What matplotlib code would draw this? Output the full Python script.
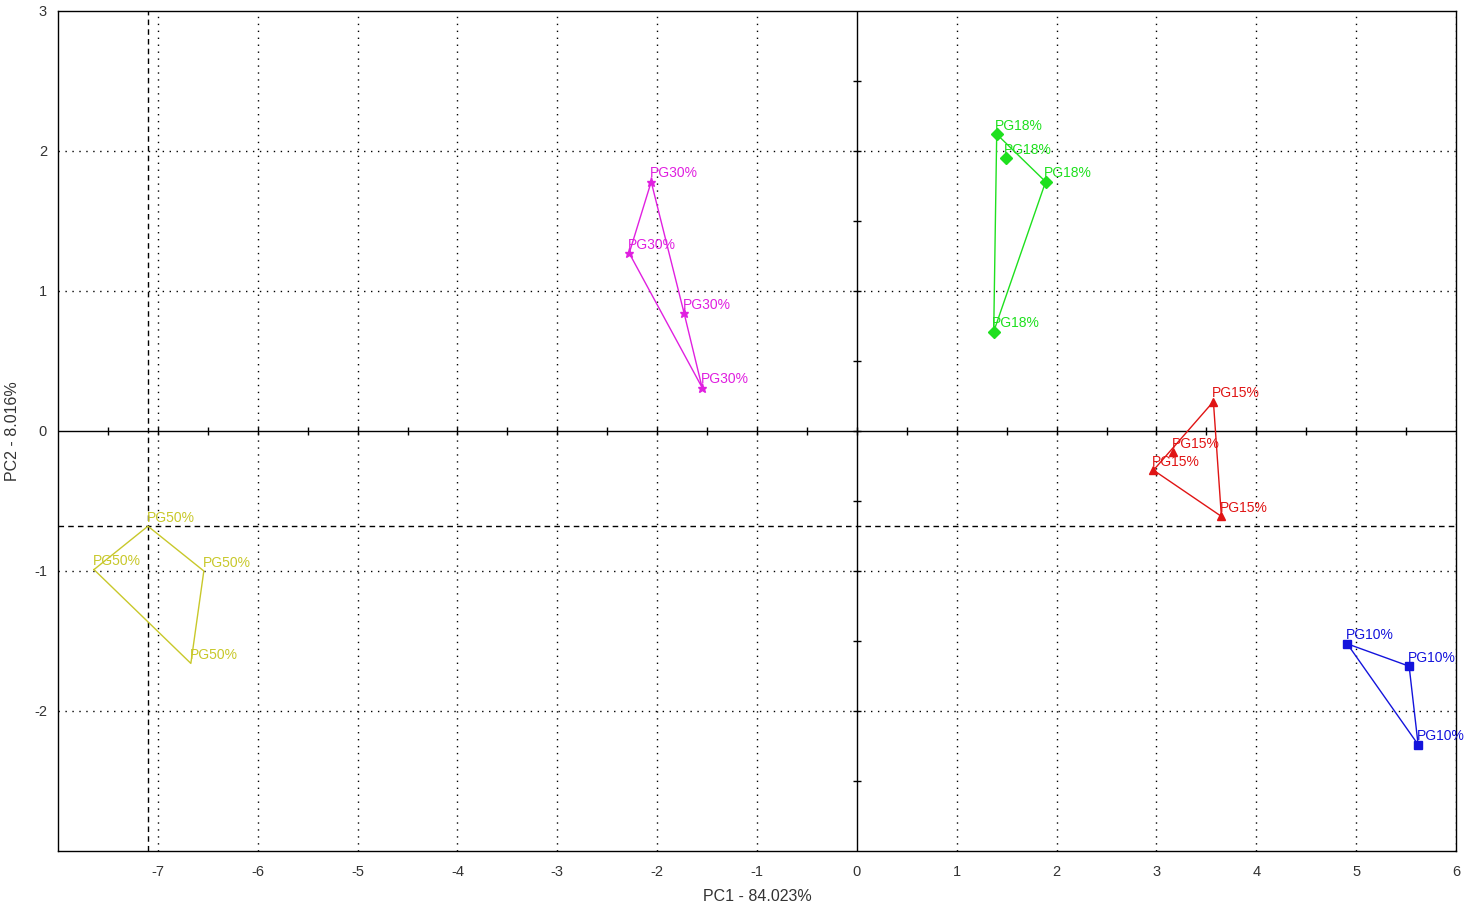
import matplotlib.pyplot as plt
import numpy as np

# PCA scores per sample group (PC1, PC2)
pg10_pc1 = [4.91, 5.53, 5.62]
pg10_pc2 = [-1.52, -1.68, -2.24]

pg15_pc1 = [3.57, 3.17, 2.97, 3.65]
pg15_pc2 = [0.21, -0.15, -0.28, -0.61]

pg18_pc1 = [1.40, 1.49, 1.89, 1.37]
pg18_pc2 = [2.12, 1.95, 1.78, 0.71]

pg30_pc1 = [-2.06, -2.28, -1.73, -1.55]
pg30_pc2 = [1.78, 1.27, 0.84, 0.31]

pg50_pc1 = [-7.10, -7.64, -6.54, -6.67]
pg50_pc2 = [-0.68, -0.99, -1.00, -1.66]

x_ticks = [-7, -6, -5, -4, -3, -2, -1, 0, 1, 2, 3, 4, 5, 6]
y_ticks = [-2, -1, 0, 1, 2, 3]

groups = [
    ("PG10%", pg10_pc1, pg10_pc2, "#1414dc", "s", 6),
    ("PG15%", pg15_pc1, pg15_pc2, "#e01414", "^", 6),
    ("PG18%", pg18_pc1, pg18_pc2, "#1ee01e", "D", 6.5),
    ("PG30%", pg30_pc1, pg30_pc2, "#e020e0", "*", 6.5),
    ("PG50%", pg50_pc1, pg50_pc2, "#c8c82a", "", 0),
]


def convex_hull(xs, ys):
    pts = sorted(zip(xs, ys))

    def cross(o, a, b):
        return (a[0] - o[0]) * (b[1] - o[1]) - (a[1] - o[1]) * (b[0] - o[0])

    lower, upper = [], []
    for p in pts:
        while len(lower) >= 2 and cross(lower[-2], lower[-1], p) <= 0:
            lower.pop()
        lower.append(p)
    for p in reversed(pts):
        while len(upper) >= 2 and cross(upper[-2], upper[-1], p) <= 0:
            upper.pop()
        upper.append(p)
    hull = lower[:-1] + upper[:-1]
    hull.append(hull[0])
    return np.array(hull)


plt.rcParams["font.family"] = ["Liberation Sans", "DejaVu Sans"]

fig = plt.figure(figsize=(14.73, 9.06), dpi=100)
ax = fig.add_axes([0.0394, 0.0607, 0.9491, 0.9272])

ax.set_xlim(-8, 6)
ax.set_ylim(-3, 3)

# dotted grid at integer positions
for xv in x_ticks:
    if xv != 0:
        ax.axvline(xv, color="black", lw=1, ls=(0, (1, 4)), zorder=1)
for yv in [-2, -1, 1, 2]:
    ax.axhline(yv, color="black", lw=1, ls=(0, (1, 4)), zorder=1)

# zero axes with half-unit ticks
ax.axhline(0, color="black", lw=1, zorder=2)
ax.axvline(0, color="black", lw=1, zorder=2)
hx = np.arange(-7.5, 6.0, 0.5)
hy = np.arange(-2.5, 3.0, 0.5)
ax.plot(hx, np.zeros_like(hx), ls="none", marker="|", ms=6, mew=1, color="black", zorder=2)
ax.plot(np.zeros_like(hy), hy, ls="none", marker="_", ms=6, mew=1, color="black", zorder=2)

# crosshair on the selected sample
ax.axvline(pg50_pc1[0], color="black", lw=1, ls=(0, (4, 3)), zorder=2)
ax.axhline(pg50_pc2[0], color="black", lw=1, ls=(0, (4, 3)), zorder=2)

for name, xs, ys, color, marker, ms in groups:
    hull = convex_hull(xs, ys)
    ax.plot(hull[:, 0], hull[:, 1], color=color, lw=1, zorder=3)
    if marker:
        ax.plot(xs, ys, ls="none", marker=marker, ms=ms, color=color, mec=color, zorder=4)
    for x, y in zip(xs, ys):
        ax.annotate(name, (x, y), xytext=(-1, 1), textcoords="offset points",
                    ha="left", va="bottom", fontsize=10, color=color, zorder=5)

ax.set_xticks(x_ticks)
ax.set_yticks(y_ticks)
ax.set_xticklabels([str(v) for v in x_ticks])
ax.set_yticklabels([str(v) for v in y_ticks])
ax.tick_params(length=0, labelsize=10.5, colors="#333333")
ax.tick_params(axis="x", pad=10)
ax.tick_params(axis="y", pad=8)

for s in ax.spines.values():
    s.set_linewidth(1)
    s.set_color("black")

ax.set_xlabel("PC1 - 84.023%", fontsize=11.5, color="#333333", labelpad=7)
ax.set_ylabel("PC2 - 8.016%", fontsize=11.5, color="#333333", labelpad=10)

fig.savefig("out.png", dpi=100)
